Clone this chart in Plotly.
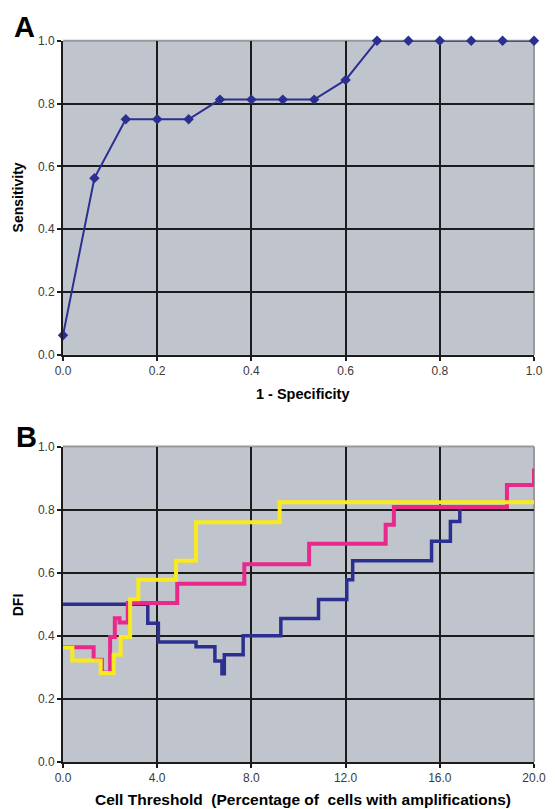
import plotly.graph_objects as go

# Panel A: ROC curve
roc_fpr = [0.0, 0.0667, 0.1333, 0.2, 0.2667, 0.3333, 0.4, 0.4667, 0.5333, 0.6, 0.6667, 0.7333, 0.8, 0.8667, 0.9333, 1.0]
roc_sens = [0.0625, 0.5625, 0.75, 0.75, 0.75, 0.8125, 0.8125, 0.8125, 0.8125, 0.875, 1.0, 1.0, 1.0, 1.0, 1.0, 1.0]

# Panel B: DFI vs cell threshold (step series)
blue_x = [0.0, 3.6, 4.05, 5.65, 6.45, 6.75, 6.85, 7.65, 9.25, 10.85, 12.05, 12.3, 15.65, 16.45, 16.85]
blue_y = [0.50, 0.44, 0.38, 0.365, 0.32, 0.28, 0.34, 0.40, 0.455, 0.515, 0.578, 0.638, 0.70, 0.762, 0.81]
pink_x = [0.0, 1.3, 1.65, 2.0, 2.2, 2.4, 2.75, 4.85, 7.7, 10.45, 13.7, 14.05, 18.85, 20.0]
pink_y = [0.364, 0.324, 0.284, 0.396, 0.456, 0.442, 0.504, 0.565, 0.627, 0.692, 0.752, 0.808, 0.878, 0.93]
yellow_x = [0.0, 0.4, 1.6, 2.15, 2.45, 2.85, 3.2, 4.8, 5.65, 9.2, 20.0]
yellow_y = [0.362, 0.322, 0.282, 0.34, 0.396, 0.516, 0.578, 0.638, 0.760, 0.823, 0.823]

a_ticks = [0.0, 0.2, 0.4, 0.6, 0.8, 1.0]
a_ticklabels = ["0.0", "0.2", "0.4", "0.6", "0.8", "1.0"]
b_xticks = [0.0, 4.0, 8.0, 12.0, 16.0, 20.0]
b_xticklabels = ["0.0", "4.0", "8.0", "12.0", "16.0", "20.0"]

NAVY = "#2B2F8F"
PINK = "#E8288A"
YELLOW = "#F8EA1C"
BG = "#C0C5CD"
GRID = "#1c1c1c"
FONT = "Liberation Sans, Arial, sans-serif"

fig = go.Figure()
fig.add_trace(go.Scatter(x=roc_fpr, y=roc_sens, mode="lines+markers",
                         line=dict(color=NAVY, width=2),
                         marker=dict(symbol="diamond", size=8, color=NAVY),
                         cliponaxis=False, xaxis="x", yaxis="y", showlegend=False))
for xs, ys, col, w in [(blue_x, blue_y, NAVY, 3.5), (pink_x, pink_y, PINK, 4), (yellow_x, yellow_y, YELLOW, 4)]:
    fig.add_trace(go.Scatter(x=xs, y=ys, mode="lines", line=dict(color=col, width=w, shape="hv"),
                             cliponaxis=False, xaxis="x2", yaxis="y2", showlegend=False))

OFF = 8  # page body margin
W, H = 556 - 2 * OFF, 809 - OFF
PL, PR = 63, 534  # plot area left/right in page pixels
ml, mt = PL - OFF, 40 - OFF
mr = W - (PR - OFF)
mb = H + OFF - 762.3
ph = H - mt - mb
pw = W - ml - mr

def clamp(v):
    return max(0.0, min(1.0, v))

def py(p):
    return (H - mb - (p - OFF)) / ph

def px(p):
    return (p - OFF - ml) / pw

axis_common = dict(showgrid=True, gridcolor=GRID, gridwidth=1.8, zeroline=False,
                   showline=True, linecolor=GRID, linewidth=2, automargin=False,
                   ticks="outside", ticklen=4, tickwidth=1.5, tickcolor=GRID,
                   ticklabeloverflow="allow",
                   tickfont=dict(family=FONT, size=12, color="#3a3a3a"))

fig.update_layout(
    width=W, height=H,
    margin=dict(l=ml, r=mr, t=mt, b=mb),
    paper_bgcolor="white", plot_bgcolor=BG,
    font=dict(family=FONT),
    xaxis=dict(domain=[0, 1], range=[0, 1], tickvals=a_ticks, ticktext=a_ticklabels,
               anchor="y", **axis_common),
    yaxis=dict(domain=[clamp(py(355)), clamp(py(40.7))], range=[0, 1], tickvals=a_ticks, ticktext=a_ticklabels,
               anchor="x", **axis_common),
    xaxis2=dict(domain=[0, 1], range=[0, 20], tickvals=b_xticks, ticktext=b_xticklabels,
                anchor="y2", **axis_common),
    yaxis2=dict(domain=[clamp(py(762.3)), clamp(py(446.7))], range=[0, 1], tickvals=a_ticks, ticktext=a_ticklabels,
                anchor="x2", **axis_common),
)

# light grey top/right border
for xr, yr in [("x domain", "y domain"), ("x2 domain", "y2 domain")]:
    fig.add_shape(type="line", xref=xr, yref=yr, x0=0, x1=1, y0=1, y1=1,
                  line=dict(color="#9a9a9a", width=2), layer="below")
    fig.add_shape(type="line", xref=xr, yref=yr, x0=1, x1=1, y0=0, y1=1,
                  line=dict(color="#9a9a9a", width=2), layer="below")

# panel letters
for t, xl, yt in [("<b>A</b>", 11.5, 8.5), ("<b>B</b>", 13.5, 419.5)]:
    fig.add_annotation(text=t, x=px(xl), y=py(yt), xref="paper", yref="paper",
                       xanchor="left", yanchor="top", showarrow=False,
                       font=dict(family=FONT, size=29, color="black"))

fig.add_annotation(text="<b>1 - Specificity</b>", x=px(302), y=py(394), xref="paper", yref="paper",
                   xanchor="center", yanchor="middle", showarrow=False,
                   font=dict(family=FONT, size=14.5, color="black"))
fig.add_annotation(text="<b>Cell Threshold&nbsp; (Percentage of&nbsp; cells with amplifications)</b>",
                   x=px(303), y=py(799.5), xref="paper", yref="paper",
                   xanchor="center", yanchor="middle", showarrow=False,
                   font=dict(family=FONT, size=15.5, color="black"))
for t, yc in [("<b>Sensitivity</b>", 198), ("<b>DFI</b>", 605)]:
    fig.add_annotation(text=t, x=px(17.5), y=py(yc), xref="paper", yref="paper",
                       xanchor="center", yanchor="middle", showarrow=False, textangle=-90,
                       font=dict(family=FONT, size=14, color="black"))

fig.write_html("out.html")
